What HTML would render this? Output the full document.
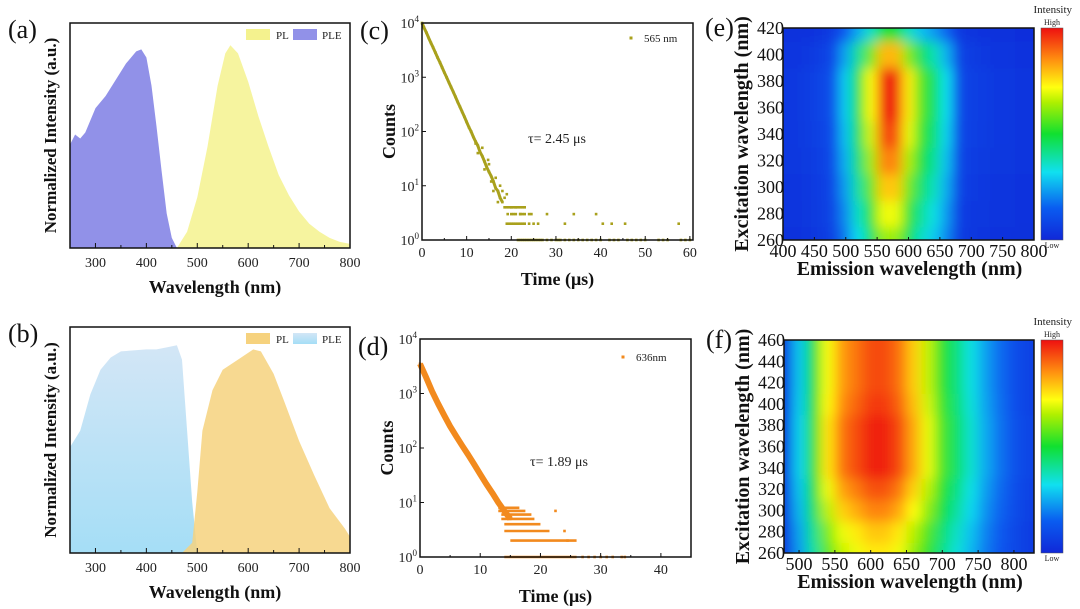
<!DOCTYPE html>
<html><head><meta charset="utf-8">
<style>
html,body{margin:0;padding:0;background:#fff;}
svg{display:block;font-family:"Liberation Serif",serif;}
</style></head>
<body>
<svg id="fig" xmlns="http://www.w3.org/2000/svg" width="1080" height="609" viewBox="0 0 1080 609">
<defs>
<linearGradient id="pleB" x1="0" y1="0" x2="0" y2="1"><stop offset="0" stop-color="#d3e6f6"/><stop offset="1" stop-color="#a5def6"/></linearGradient>
<linearGradient id="jetbar" x1="0" y1="1" x2="0" y2="0">
<stop offset="0" stop-color="#1028d8"/><stop offset="0.15" stop-color="#0a5cf0"/><stop offset="0.32" stop-color="#10e0f0"/><stop offset="0.5" stop-color="#10e030"/><stop offset="0.65" stop-color="#b0f000"/><stop offset="0.72" stop-color="#ffff10"/><stop offset="0.85" stop-color="#ff9010"/><stop offset="1" stop-color="#ee1010"/></linearGradient>
<clipPath id="clipE"><rect x="783" y="28" width="251" height="212"/></clipPath>
<clipPath id="clipF"><rect x="784" y="340" width="250" height="213"/></clipPath>
<filter id="blurE" x="-20%" y="-20%" width="140%" height="140%"><feGaussianBlur stdDeviation="6"/></filter>
</defs>
</svg>
<script>
// ---------- DATA ----------
// (a)
const aPLEnm  = [250,260,270,280,300,320,340,360,380,390,400,410,420,430,440,450,460];
const aPLEval = [0.51,0.56,0.54,0.57,0.69,0.75,0.83,0.91,0.97,0.98,0.94,0.8,0.6,0.38,0.17,0.05,0];
const aPLnm   = [460,480,500,520,540,555,565,580,600,620,640,660,680,700,720,740,760,780,800];
const aPLval  = [0,0.08,0.25,0.5,0.8,0.96,1,0.96,0.82,0.65,0.5,0.36,0.26,0.18,0.12,0.08,0.05,0.03,0.02];
// (b)
const bPLEnm  = [250,270,290,310,330,350,400,420,440,460,470,480,490,500];
const bPLEval = [0.52,0.6,0.78,0.9,0.96,0.99,1,1,1.01,1.02,0.95,0.6,0.25,0];
const bPLnm   = [470,490,500,510,530,550,580,610,625,650,670,700,730,760,790,800];
const bPLval  = [0,0.05,0.3,0.6,0.8,0.9,0.95,1,0.99,0.88,0.75,0.55,0.38,0.22,0.12,0.08];
// (c) decay 565 nm
const cT = [0,0.5,1,1.5,2,2.5,3,3.5,4,4.5,5,5.5,6,6.5,7,7.5,8,8.5,9,9.5,10,10.5,11,11.5,12,12.5,13,13.5,14,14.5,15,15.5,16,16.5,17,17.5,18];
const cC = [10000,8100,6600,5300,4300,3500,2850,2300,1880,1520,1230,1000,810,660,535,435,350,285,230,187,150,120,100,80,65,55,42,35,28,22,18,15,12,9,8,6,5];
const cNoiseT = [12,12.5,13.5,14,15,16,16.5,17,18,18.5,19,20,20.5,21,22,23,24,17.5,15.5,14.8];
const cNoiseC = [60,40,50,20,25,8,14,5,8,6,7,4,3,4,3,3,3,10,12,30];
const cRow1 = [21.5,22,22.5,23,23.5,24,24.5,25,25.5,26,26.5,27,28,29,30,30.5,31,32,33,34,35,36,37,38,39,40,42,43,44,46,47,48,49,50,53,54,55,58,59,60];
const cRow2 = [19,19.5,20,20.5,21,21.5,22,22.5,23,24,25,26,32,40.5,42.5,45.5,57.5];
const cRow3 = [19.2,20,21,22,22.5,24.5,28,34,39];
const cRow4 = [18.5,19,19.5,20,20.5,21,21.5,22,22.5,23];
// (d) decay 636 nm
const dT = [0,1,2,3,4,5,6,7,8,9,10,11,12,13,14,15];
const dC = [3500,2000,1100,650,400,250,165,110,75,50,33,22,15,10,7,5];
const dRowCount = [1,2,3,4,5,6,7,8];
const dRowStart = [14,15,14,14,13.5,13.5,13,13];
const dRowEnd   = [26,26,21.5,20,19,18.5,17.5,16.5];
const dExtraT = [27,28,29,30,31,32,33.5,34,22.5,24,24.5];
const dExtraC = [1,1,1,1,1,1,1,1,7,3,2];
// (e) excitation-emission map (outer-product profiles)
const eEm   = [400,420,440,460,480,500,520,540,560,580,600,620,640,660,680,700,720,740,760,780,800];
const eEmV  = [0.05,0.05,0.06,0.08,0.12,0.3,0.5,0.72,0.98,0.98,0.74,0.56,0.46,0.32,0.1,0.07,0.06,0.05,0.05,0.04,0.04];
const eEx   = [260,280,300,320,340,360,380,400,420];
const eExV  = [0.64,0.72,0.8,0.88,0.95,1,1,0.82,0.5];
// (f)
const fEm   = [480,500,520,540,560,580,600,620,640,660,680,700,720,740,760,780,800,820];
const fEmV  = [0.05,0.3,0.52,0.75,0.88,0.93,0.98,0.98,0.93,0.82,0.7,0.55,0.45,0.35,0.25,0.18,0.12,0.08];
const fEx   = [260,280,300,320,340,360,380,400,420,440,460];
const fExV  = [0.76,0.8,0.88,0.94,1,1,1,0.97,0.95,0.95,0.95];

// ---------- HELPERS ----------
const NS = "http://www.w3.org/2000/svg";
const svg = document.getElementById('fig');
function mk(tag, name, parent){
  const el = document.createElementNS(NS, tag);
  
  
  (parent||svg).appendChild(el);
  return el;
}
function set(el, o){ for (const k in o) el.setAttribute(k, o[k]); return el; }
function txt(x,y,s,o,name,parent){
  const t = mk('text', name, parent);
  set(t, Object.assign({x:x,y:y,'font-size':13,fill:'#222'}, o||{}));
  t.textContent = s; return t;
}
function supTxt(x,y,base,exp,fs,name){
  const t = mk('text', name);
  set(t,{x:x,y:y,'font-size':fs,'text-anchor':'end',fill:'#222'});
  t.appendChild(document.createTextNode(base));
  const s = document.createElementNS(NS,'tspan');
  set(s,{dy:-6,'font-size':fs*0.65}); s.textContent = exp; t.appendChild(s);
  return t;
}
function lin(d0,d1,r0,r1){ return v => r0 + (v-d0)/(d1-d0)*(r1-r0); }
function frame(x0,y0,x1,y1,name){
  return set(mk('rect',name),{x:x0,y:y0,width:x1-x0,height:y1-y0,fill:'none',stroke:'#111','stroke-width':1.5});
}

// ---------- SPECTRA PANELS ----------
function spectra(P){
  const X = lin(250,800,P.x0,P.x1), Y = lin(0,1.11,P.y1,P.y0);
  function area(nm,val,fill,op,name){
    let d = 'M'+X(nm[0])+','+P.y1;
    for (let i=0;i<nm.length;i++) d += ' L'+X(nm[i]).toFixed(1)+','+Y(val[i]).toFixed(1);
    d += ' L'+X(nm[nm.length-1])+','+P.y1+' Z';
    set(mk('path',name),{d:d,fill:fill,'fill-opacity':op,stroke:'none'});
  }
  area(P.pleNm,P.pleV,P.pleFill,1,'ple-area');
  area(P.plNm,P.plV,P.plFill,0.85,'pl-area');
  frame(P.x0,P.y0,P.x1,P.y1,'plot-frame');
  for (let v=300; v<=800; v+=50){
    const tk = mk('line','x-tick');
    set(tk,{x1:X(v),x2:X(v),y1:P.y1,y2:P.y1-(v%100===0?5:3),stroke:'#111','stroke-width':1});
    if (v%100===0) txt(X(v),P.y1+19,String(v),{'text-anchor':'middle','font-size':14},'x-tick-label');
  }
  txt((P.x0+P.x1)/2+5,P.y1+45,'Wavelength (nm)',{'text-anchor':'middle','font-size':18,'font-weight':'bold',fill:'#111'},'x-axis-title');
  txt(0,0,'Normalized Intensity (a.u.)',{'text-anchor':'middle','font-size':17,'font-weight':'bold',fill:'#111',transform:'translate('+(P.x0-14)+','+((P.y0+P.y1)/2)+') rotate(-90)'},'y-axis-title');
  txt(8,P.y0+15,P.label,{'font-size':26,fill:'#111'},'panel-label');
  const ly = P.y0+6;
  set(mk('rect','legend-swatch-pl'),{x:246,y:ly,width:24,height:11,fill:P.plFill});
  txt(276,ly+10,'PL',{'font-size':11},'legend-label-pl');
  set(mk('rect','legend-swatch-ple'),{x:293,y:ly,width:24,height:11,fill:P.pleFill});
  txt(322,ly+10,'PLE',{'font-size':11},'legend-label-ple');
}
spectra({x0:70,x1:350,y0:23,y1:248,label:'(a)',pleNm:aPLEnm,pleV:aPLEval,plNm:aPLnm,plV:aPLval,pleFill:'#9191e8',plFill:'#f4f28e'});
spectra({x0:70,x1:350,y0:327,y1:553,label:'(b)',pleNm:bPLEnm,pleV:bPLEval,plNm:bPLnm,plV:bPLval,pleFill:'url(#pleB)',plFill:'#f6d27e'});

// ---------- DECAY PANELS ----------
function decay(P){
  const X = lin(0,P.xmax,P.x0,P.x1);
  const Y = c => P.y1 - Math.log10(c)*(P.y1-P.y0)/4;
  function dot(t,c,name){
    set(mk('rect',name),{x:(X(t)-1.3).toFixed(1),y:(Y(c)-1.3).toFixed(1),width:2.6,height:2.6,fill:P.color});
  }
  let pts = P.t.map((t,i)=>X(t).toFixed(1)+','+Y(P.c[i]).toFixed(1)).join(' ');
  set(mk('polyline','decay-trace'),{points:pts,fill:'none',stroke:P.color,'stroke-width':P.bandW,'stroke-linejoin':'round'});
  P.t.forEach((t,i)=>dot(t,P.c[i],'decay-point'));
  P.draw(X,Y,dot);
  frame(P.x0,P.y0,P.x1,P.y1,'plot-frame');
  for (let v=0; v<=P.xmax; v+=5){
    set(mk('line','x-tick'),{x1:X(v),x2:X(v),y1:P.y1,y2:P.y1-(v%10===0?4:2),stroke:'#111'});
    if (v%10===0) txt(X(v),P.y1+17,String(v),{'text-anchor':'middle','font-size':14},'x-tick-label');
  }
  for (let e=0;e<=4;e++){
    const y = P.y1 - e*(P.y1-P.y0)/4;
    set(mk('line','y-tick'),{x1:P.x0,x2:P.x0+4,y1:y,y2:y,stroke:'#111'});
    supTxt(P.x0-3,y+5,'10',String(e),14,'y-tick-label');
  }
  txt((P.x0+P.x1)/2,P.y1+45,'Time (\u03bcs)',{'text-anchor':'middle','font-size':18,'font-weight':'bold',fill:'#111'},'x-axis-title');
  txt(0,0,'Counts',{'text-anchor':'middle','font-size':18,'font-weight':'bold',fill:'#111',transform:'translate('+(P.x0-27)+','+((P.y0+P.y1)/2)+') rotate(-90)'},'y-axis-title');
  txt(P.x0-62,P.y0+16,P.label,{'font-size':26,fill:'#111'},'panel-label');
  set(mk('rect','legend-marker'),{x:P.legX-1.5,y:P.legY-1.5,width:3,height:3,fill:P.color});
  txt(P.legX+13,P.legY+4,P.legend,{'font-size':11},'legend-label');
  txt(P.tauX,P.tauY,P.tau,{'font-size':14},'lifetime-annotation');
}
decay({x0:422,x1:693,y0:23,y1:240,xmax:60.7,color:'#a9a11c',bandW:3,label:'(c)',legend:'565 nm',legX:631,legY:38,tau:'\u03c4= 2.45 \u03bcs',tauX:528,tauY:143,t:cT,c:cC,
  draw:(X,Y,dot)=>{
    cNoiseT.forEach((t,i)=>dot(t,cNoiseC[i],'noise-point'));
    cRow1.forEach(t=>dot(t,1,'floor-point'));
    cRow2.forEach(t=>dot(t,2,'floor-point'));
    cRow3.forEach(t=>dot(t,3,'floor-point'));
    cRow4.forEach(t=>dot(t,4,'floor-point'));
  }});
decay({x0:420,x1:691,y0:339,y1:557,xmax:45,color:'#f28a1e',bandW:6,label:'(d)',legend:'636nm',legX:623,legY:357,tau:'\u03c4= 1.89 \u03bcs',tauX:530,tauY:466,t:dT,c:dC,
  draw:(X,Y,dot)=>{
    dRowCount.forEach((c,i)=>{
      set(mk('line','floor-row'),{x1:X(dRowStart[i]),x2:X(dRowEnd[i]),y1:Y(c),y2:Y(c),stroke:'#f28a1e','stroke-width':2.6});
    });
    dExtraT.forEach((t,i)=>dot(t,dExtraC[i],'noise-point'));
  }});

// ---------- HEATMAPS ----------
const jetStops = [[0,[16,40,216]],[0.15,[10,92,240]],[0.32,[16,224,240]],[0.5,[16,224,48]],[0.65,[176,240,0]],[0.72,[255,255,16]],[0.85,[255,144,16]],[1,[238,16,16]]];
function jet(v){
  v = Math.max(0,Math.min(1,v));
  for (let i=1;i<jetStops.length;i++){
    if (v<=jetStops[i][0]){
      const a=jetStops[i-1], b=jetStops[i], f=(v-a[0])/(b[0]-a[0]);
      const c=a[1].map((x,k)=>Math.round(x+(b[1][k]-x)*f));
      return 'rgb('+c.join(',')+')';
    }
  }
  return 'rgb(238,16,16)';
}
function heat(P){
  const X = lin(P.xmin,P.xmax,P.x0,P.x1), Y = lin(P.ymin,P.ymax,P.y1,P.y0);
  const g = mk('g','heatmap-cells'); set(g,{'clip-path':'url(#'+P.clip+')'});
  const gi = mk('g','heatmap-blur',g); set(gi,{filter:'url(#blurE)'});
  const dx = Math.abs(X(P.em[1])-X(P.em[0])), dy = Math.abs(Y(P.ex[1])-Y(P.ex[0]));
  for (let i=0;i<P.em.length;i++) for (let j=0;j<P.ex.length;j++){
    let x = X(P.em[i])-dx/2, w = dx+0.6, y = Y(P.ex[j])-dy/2, h = dy+0.6;
    if (i===0){ x -= 40; w += 40; }
    if (i===P.em.length-1){ w += 40; }
    if (j===0){ h += 40; }
    if (j===P.ex.length-1){ y -= 40; h += 40; }
    const r = mk('rect','heatmap-cell',gi);
    set(r,{x:x.toFixed(1),y:y.toFixed(1),width:w.toFixed(1),height:h.toFixed(1),fill:jet(P.emV[i]*P.exV[j])});
  }
  frame(P.x0,P.y0,P.x1,P.y1,'plot-frame');
  P.xt.forEach(v=>{
    set(mk('line','x-tick'),{x1:X(v),x2:X(v),y1:P.y1,y2:P.y1-3,stroke:'#111'});
    txt(X(v),P.y1+17,String(v),{'text-anchor':'middle','font-size':18,fill:'#111'},'x-tick-label');
  });
  for (let v=P.ymin; v<=P.ymax; v+=20){
    txt(P.x0+1,Y(v)+6,String(v),{'text-anchor':'end','font-size':18,fill:'#111'},'y-tick-label');
  }
  txt((P.x0+P.x1)/2+1,P.y1+35,'Emission wavelength (nm)',{'text-anchor':'middle','font-size':20,'font-weight':'bold',fill:'#111'},'x-axis-title');
  txt(0,0,'Excitation wavelength (nm)',{'text-anchor':'middle','font-size':20,'font-weight':'bold',fill:'#111',transform:'translate('+(P.x0-35)+','+((P.y0+P.y1)/2)+') rotate(-90)'},'y-axis-title');
  txt(P.x0-78,P.y0+8,P.label,{'font-size':26,fill:'#111'},'panel-label');
  set(mk('rect','colorbar'),{x:1041,y:P.y0,width:22,height:P.y1-P.y0,fill:'url(#jetbar)',stroke:'#555','stroke-width':0.5});
  txt(1052,P.y0-3,'High',{'text-anchor':'middle','font-size':8},'colorbar-high-label');
  txt(1052,P.y1+8,'Low',{'text-anchor':'middle','font-size':8},'colorbar-low-label');
  txt(1072,P.y0-15,'Intensity',{'font-size':11,'text-anchor':'end'},'colorbar-title');
}
heat({x0:783,x1:1034,y0:28,y1:240,xmin:400,xmax:800,ymin:260,ymax:420,clip:'clipE',label:'(e)',em:eEm,emV:eEmV,ex:eEx,exV:eExV,xt:[400,450,500,550,600,650,700,750,800]});
heat({x0:784,x1:1034,y0:340,y1:553,xmin:479,xmax:828,ymin:260,ymax:460,clip:'clipF',label:'(f)',em:fEm,emV:fEmV,ex:fEx,exV:fExV,xt:[500,550,600,650,700,750,800]});
</script>
</body></html>
